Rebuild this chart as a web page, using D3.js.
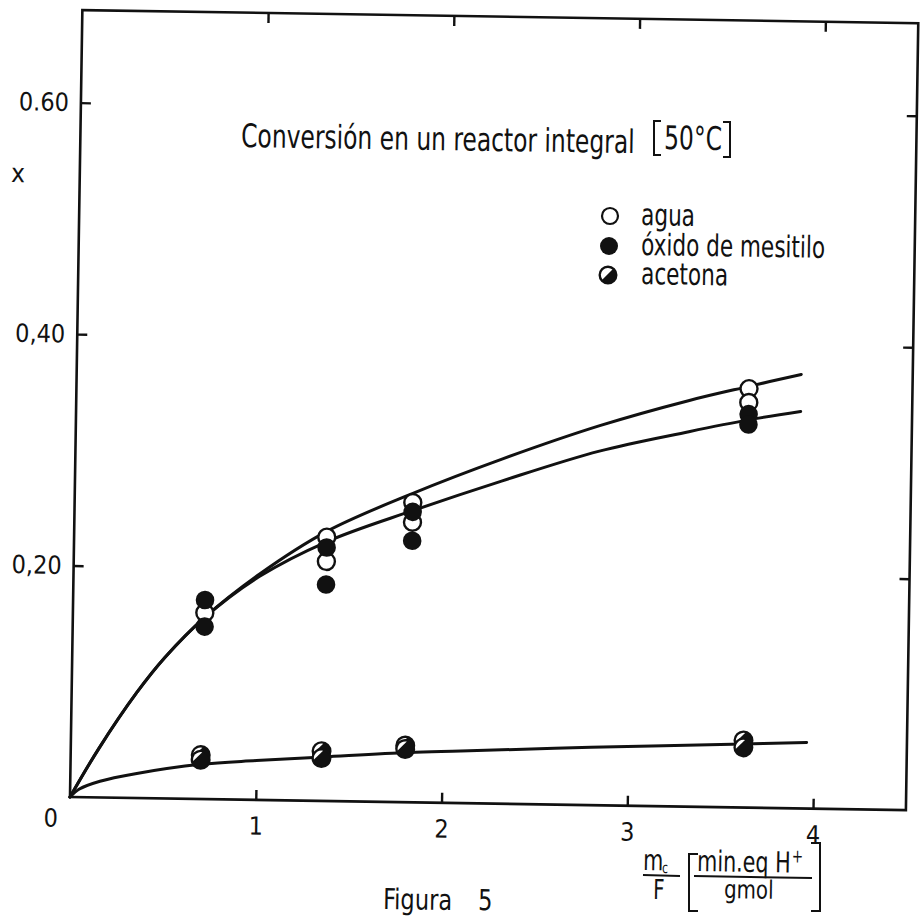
<!DOCTYPE html>
<html>
<head>
<meta charset="utf-8">
<script src="https://cdn.jsdelivr.net/npm/d3@7"></script>
<style>
  html, body { margin: 0; padding: 0; background: #fff; }
  svg { display: block; }
  text { font-family: "Liberation Sans Narrow", "DejaVu Sans Condensed", "Liberation Sans", sans-serif; fill: #111; }
</style>
</head>
<body>
<svg id="chart" width="921" height="918"></svg>
<script>
// Figura 5 — conversion in an integral reactor at 50 °C (scanned figure, slightly tilted)

// measured points [m_c/F, x]
const agua = [[0.71, 0.161], [1.36, 0.228], [1.36, 0.207], [1.82, 0.259], [1.82, 0.242], [3.62, 0.362], [3.62, 0.350]];
const oxido = [[0.71, 0.172], [0.71, 0.149], [1.36, 0.219], [1.36, 0.187], [1.82, 0.251], [1.82, 0.226], [3.62, 0.340], [3.62, 0.331]];
const acetona = [[0.70, 0.038], [0.70, 0.034], [1.35, 0.043], [1.35, 0.037], [1.80, 0.049], [1.80, 0.046], [3.62, 0.058], [3.62, 0.052]];

// fitted curves
const curveMainX = [0, 0.15, 0.35, 0.5, 0.71, 1.0, 1.36, 1.82, 2.3, 2.82, 3.3, 3.62, 3.9];
const curveAguaY = [0, 0.042, 0.091, 0.122, 0.157, 0.195, 0.233, 0.267, 0.298, 0.328, 0.351, 0.364, 0.375];
const curveOxidoY = [0, 0.042, 0.091, 0.122, 0.157, 0.193, 0.224, 0.252, 0.279, 0.306, 0.324, 0.335, 0.343];
const curveAcetX = [0, 0.05, 0.16, 0.35, 0.7, 1.0, 1.36, 1.82, 2.1, 2.8, 3.62, 3.96];
const curveAcetY = [0, 0.007, 0.014, 0.021, 0.030, 0.034, 0.038, 0.043, 0.045, 0.050, 0.055, 0.057];

const xTicks = [1, 2, 3, 4];
const yTicks = [0.2, 0.4, 0.6];
const yTickLabels = ["0,20", "0,40", "0.60"];
const legendNames = ["agua", "óxido de mesitilo", "acetona"];

const TILT = 0.9; // deg, the scan is rotated a little clockwise
const STRETCH = 1.25; // the lettering is tall and narrow
const ORIGIN = [70, 797];
const INK = "#111";

const svg = d3.select("#chart");
const plot = svg.append("g")
  .attr("transform", `translate(${ORIGIN[0]},${ORIGIN[1]}) rotate(${TILT})`);

const x = d3.scaleLinear().domain([0, 4.5]).range([0, 836]);
const y = d3.scaleLinear().domain([0, 0.68]).range([0, -787]);

// frame
plot.append("rect")
  .attr("x", x(0)).attr("y", y(0.68))
  .attr("width", x(4.5) - x(0)).attr("height", y(0) - y(0.68))
  .attr("fill", "none").attr("stroke", INK).attr("stroke-width", 2.6);

function styleAxis(g, labels) {
  g.select(".domain").remove();
  g.selectAll(".tick line").attr("stroke", INK).attr("stroke-width", 2.4);
  if (!labels) g.selectAll(".tick text").remove();
  else g.selectAll(".tick text").attr("fill", INK).style("font-size", "25px")
    .style("font-family", "'Liberation Sans Narrow', 'DejaVu Sans Condensed', sans-serif");
}

plot.append("g")
  .call(d3.axisBottom(x).tickValues(xTicks).tickSize(-10).tickPadding(17).tickFormat(d3.format("d")))
  .call(styleAxis, true);
plot.append("g").attr("transform", `translate(0,${y(0.68)})`)
  .call(d3.axisTop(x).tickValues(xTicks).tickSize(-10))
  .call(styleAxis, false);
plot.append("g")
  .call(d3.axisLeft(y).tickValues(yTicks).tickSize(-10).tickPadding(12)
    .tickFormat((d, i) => yTickLabels[i]))
  .call(styleAxis, true);
plot.append("g").attr("transform", `translate(${x(4.5)},0)`)
  .call(d3.axisRight(y).tickValues(yTicks).tickSize(-10))
  .call(styleAxis, false);

plot.append("text")
  .attr("x", x(0) - 19).attr("y", y(0) + 30)
  .attr("text-anchor", "middle").style("font-size", "25px").text("0");

// curves
const line = d3.line().x(d => x(d[0])).y(d => y(d[1])).curve(d3.curveCatmullRom.alpha(0.5));
const curves = [
  d3.zip(curveMainX, curveAguaY),
  d3.zip(curveMainX, curveOxidoY),
  d3.zip(curveAcetX, curveAcetY)
];
plot.append("g").selectAll("path").data(curves).join("path")
  .attr("d", line)
  .attr("fill", "none").attr("stroke", INK)
  .attr("stroke-width", 3).attr("stroke-linecap", "round");

// markers
const R = 8.5;
function halfMark(sel, r, d) {
  // black disc with a white cap on the upper-left side
  sel.append("circle").attr("r", r).attr("fill", INK).attr("stroke", INK).attr("stroke-width", 2);
  const ri = r - 1.4;
  const h = Math.sqrt(ri * ri - d * d);
  const u = [-Math.SQRT1_2, -Math.SQRT1_2], v = [Math.SQRT1_2, -Math.SQRT1_2];
  const p1 = [u[0] * d + v[0] * h, u[1] * d + v[1] * h];
  const p2 = [u[0] * d - v[0] * h, u[1] * d - v[1] * h];
  sel.append("path")
    .attr("d", `M${p1[0]},${p1[1]} A${ri},${ri} 0 0 0 ${p2[0]},${p2[1]} Z`)
    .attr("fill", "#fff");
}

const gPts = plot.append("g");
gPts.selectAll("circle.agua").data(agua).join("circle").attr("class", "agua")
  .attr("cx", d => x(d[0])).attr("cy", d => y(d[1])).attr("r", R)
  .attr("fill", "#fff").attr("stroke", INK).attr("stroke-width", 2.4);
gPts.selectAll("circle.oxido").data(oxido).join("circle").attr("class", "oxido")
  .attr("cx", d => x(d[0])).attr("cy", d => y(d[1])).attr("r", R + 0.8)
  .attr("fill", INK);
gPts.selectAll("g.acetona").data(acetona).join("g").attr("class", "acetona")
  .attr("transform", d => `translate(${x(d[0])},${y(d[1])})`)
  .each(function () { halfMark(d3.select(this), R + 0.5, 4.2); });

// annotations (placed on the page, tilted like the scan)
function note(px, py, str, size, anchor, stretch) {
  const s = stretch == null ? STRETCH : stretch;
  return svg.append("text")
    .attr("transform", `translate(${px},${py}) rotate(${TILT}) scale(1,${s})`)
    .attr("text-anchor", anchor || "start")
    .style("font-size", size + "px")
    .text(str);
}
function bracket(px, top, bottom, w, dir) {
  // dir = 1 opens right "[", -1 opens left "]"
  svg.append("path")
    .attr("d", `M${px + dir * w},${top} L${px},${top} L${px},${bottom} L${px + dir * w},${bottom}`)
    .attr("fill", "none").attr("stroke", INK).attr("stroke-width", 2);
}

note(241, 147, "Conversión en un reactor integral", 26);
bracket(654, 121, 155, 7, 1);
note(664, 149, "50°C", 26);
bracket(730, 122, 157, 7, -1);
note(18, 182, "x", 26, "middle", 1);

// legend
const legendY = [216, 246, 275];
const gLeg = svg.append("g");
gLeg.append("circle").attr("cx", 610).attr("cy", legendY[0]).attr("r", 8)
  .attr("fill", "#fff").attr("stroke", INK).attr("stroke-width", 2.2);
gLeg.append("circle").attr("cx", 609).attr("cy", legendY[1]).attr("r", 9).attr("fill", INK);
gLeg.append("g").attr("transform", `translate(608,${legendY[2]})`)
  .call(g => halfMark(g, 8.5, 0.8));
legendNames.forEach((n, i) => note(641, legendY[i] + 9, n, 24));

// x-axis quantity  m_c / F [min.eq H+ / gmol]
note(643, 870, "m", 23);
note(662, 873, "c", 12);
svg.append("line").attr("x1", 643).attr("y1", 875).attr("x2", 680).attr("y2", 876)
  .attr("stroke", INK).attr("stroke-width", 2);
note(653, 899, "F", 22);
bracket(689, 854, 911, 9, 1);
const unitTop = note(697, 871, "min.eq H", 23);
unitTop.append("tspan").attr("dx", 1).attr("dy", -8).style("font-size", "15px").text("+");
svg.append("line").attr("x1", 694).attr("y1", 876).attr("x2", 812).attr("y2", 878)
  .attr("stroke", INK).attr("stroke-width", 2);
note(724, 898, "gmol", 22, "start", 1.15);
bracket(820, 843, 911, 9, -1);

note(383, 909, "Figura", 25, "start", 1.15);
note(478, 910, "5", 25, "start", 1.15);
</script>
</body>
</html>
